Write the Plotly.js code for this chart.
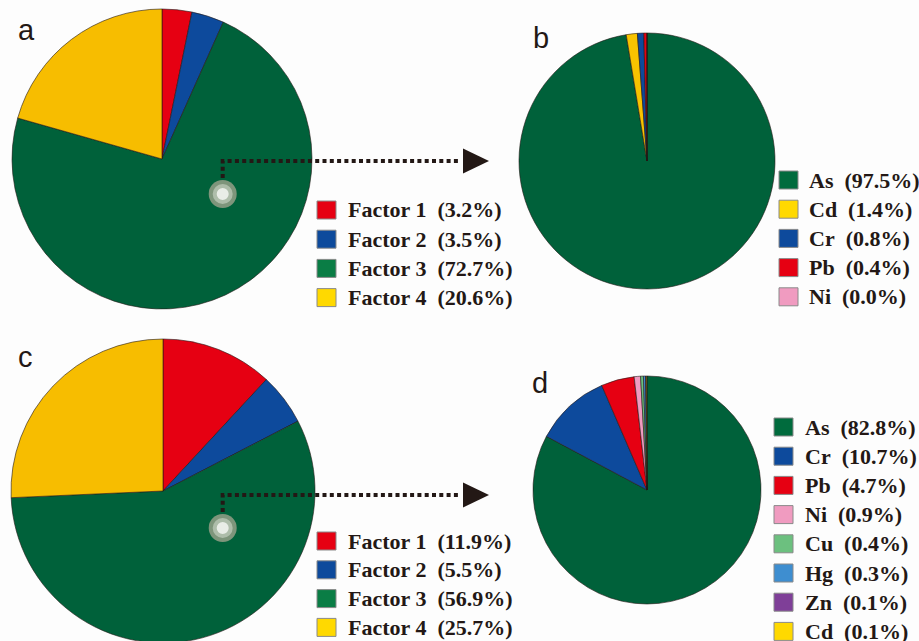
<!DOCTYPE html>
<html>
<head>
<meta charset="utf-8">
<script src="https://cdn.plot.ly/plotly-3.0.1.min.js"></script>
<style>
  html, body { margin: 0; padding: 0; overflow: hidden; background: #fdfdfd; }
  #chart { width: 919px; height: 660px; }
</style>
</head>
<body>
<div id="chart"></div>
<script>
// Source contributions (panels a, c) and element contributions (panels b, d)
const factorLabels = ['Factor 1', 'Factor 2', 'Factor 3', 'Factor 4'];
const factorValuesA = [3.2, 3.5, 72.7, 20.6];
const factorValuesC = [11.9, 5.5, 56.9, 25.7];
const factorColors = ['#E60012', '#0D4A9C', '#00613A', '#F7BD00'];
const factorSwatches = ['#E60012', '#0D4A9C', '#0A7D45', '#FFD900'];

const elementLabelsB = ['As', 'Cd', 'Cr', 'Pb', 'Ni'];
const elementValuesB = [97.5, 1.4, 0.8, 0.4, 0.0];
const elementColorsB = ['#00613A', '#F8C300', '#0D4A9C', '#E60012', '#F09BC0'];
const elementSwatchesB = ['#006B3D', '#FFD900', '#0D4A9C', '#E60012', '#F09BC0'];

const elementLabelsD = ['As', 'Cr', 'Pb', 'Ni', 'Cu', 'Hg', 'Zn', 'Cd'];
const elementValuesD = [82.8, 10.7, 4.7, 0.9, 0.4, 0.3, 0.1, 0.1];
const elementColorsD = ['#00613A', '#0D4A9C', '#E60012', '#F09BC0', '#6CC07F', '#3E8ED0', '#7F3F98', '#FFD900'];
const elementSwatchesD = ['#006B3D', '#0D4A9C', '#E60012', '#F09BC0', '#6CC07F', '#3E8ED0', '#7F3F98', '#FFD900'];

const panelLetters = ['a', 'b', 'c', 'd'];

const W = 919, H = 660;
const INK = '#231815';
const SERIF = '"Liberation Serif", "Times New Roman", serif';
const SANS = '"Liberation Sans", Arial, sans-serif';
const fx = x => x / W;
const fy = y => 1 - y / H;

// pie placement: centre and radius in pixels
const panels = [
  { labels: factorLabels, values: factorValuesA, colors: factorColors, swatches: factorSwatches,
    cx: 162, cy: 159, r: 150, legX: 317, legTextX: 346, legY0: 210, legStep: 29.2 },
  { labels: elementLabelsB, values: elementValuesB, colors: elementColorsB, swatches: elementSwatchesB,
    cx: 647, cy: 161, r: 128, legX: 779, legTextX: 807, legY0: 180, legStep: 29.2 },
  { labels: factorLabels, values: factorValuesC, colors: factorColors, swatches: factorSwatches,
    cx: 163, cy: 491, r: 152, legX: 317, legTextX: 346, legY0: 541, legStep: 28.8 },
  { labels: elementLabelsD, values: elementValuesD, colors: elementColorsD, swatches: elementSwatchesD,
    cx: 647, cy: 490, r: 114, legX: 774, legTextX: 803, legY0: 427, legStep: 29.2 }
];

const traces = panels.map(p => ({
  type: 'pie',
  labels: p.labels,
  values: p.values,
  sort: false,
  direction: 'clockwise',
  rotation: 0,
  textinfo: 'none',
  hoverinfo: 'label+value',
  showlegend: false,
  marker: { colors: p.colors, line: { color: INK, width: 0.6 } },
  domain: { x: [fx(p.cx - p.r), fx(p.cx + p.r)], y: [fy(p.cy + p.r), fy(p.cy - p.r)] }
}));

const shapes = [];
const annotations = [];

// legends: colour swatch plus "Label  (value%)"
panels.forEach(p => {
  p.labels.forEach((lab, i) => {
    const yc = p.legY0 + i * p.legStep;
    shapes.push({
      type: 'rect', xref: 'paper', yref: 'paper',
      x0: fx(p.legX), x1: fx(p.legX + 19), y0: fy(yc + 9), y1: fy(yc - 9),
      fillcolor: p.swatches[i], line: { color: '#8a8a8a', width: 1 }
    });
    annotations.push({
      xref: 'paper', yref: 'paper', x: fx(p.legTextX), y: fy(yc),
      xanchor: 'left', yanchor: 'middle', showarrow: false,
      text: '<b>' + lab + '\u00a0\u00a0(' + p.values[i].toFixed(1) + '%)</b>',
      font: { family: SERIF, size: 22, color: INK }
    });
  });
});

// panel letters
const letterPos = [[16, 30], [531, 38], [16, 357], [530, 383]];
panelLetters.forEach((t, i) => {
  annotations.push({
    xref: 'paper', yref: 'paper', x: fx(letterPos[i][0]), y: fy(letterPos[i][1]),
    xanchor: 'left', yanchor: 'middle', showarrow: false, text: t,
    font: { family: SANS, size: 29, color: INK }
  });
});

// pointer from the source factor to its element breakdown
function pointer(px0, py0) {
  const lineY = py0 - 33;
  const path = 'M ' + fx(px0) + ',' + fy(py0 - 16) + ' L ' + fx(px0) + ',' + fy(lineY) +
               ' L ' + fx(460) + ',' + fy(lineY);
  shapes.push({ type: 'path', xref: 'paper', yref: 'paper', path: path,
                line: { color: INK, width: 4, dash: '4px,3.3px' } });
  shapes.push({ type: 'path', xref: 'paper', yref: 'paper',
                path: 'M ' + fx(463) + ',' + fy(lineY - 12.5) + ' L ' + fx(489) + ',' + fy(lineY) +
                      ' L ' + fx(463) + ',' + fy(lineY + 12.5) + ' Z',
                fillcolor: INK, line: { width: 0 } });
  [[14, '#7E957B'], [10, '#AEBDAA'], [6, '#E9EDE7']].forEach(([r, c]) => {
    shapes.push({ type: 'circle', xref: 'paper', yref: 'paper',
                  x0: fx(px0 - r), x1: fx(px0 + r), y0: fy(py0 + r), y1: fy(py0 - r),
                  fillcolor: c, line: { width: 0 } });
  });
}
pointer(222.7, 194);
pointer(222.7, 528);

const layout = {
  width: W, height: H,
  margin: { l: 0, r: 0, t: 0, b: 0 },
  paper_bgcolor: '#fdfdfd',
  plot_bgcolor: '#fdfdfd',
  shapes: shapes,
  annotations: annotations
};

Plotly.newPlot('chart', traces, layout, { displayModeBar: false, staticPlot: true });
</script>
</body>
</html>
